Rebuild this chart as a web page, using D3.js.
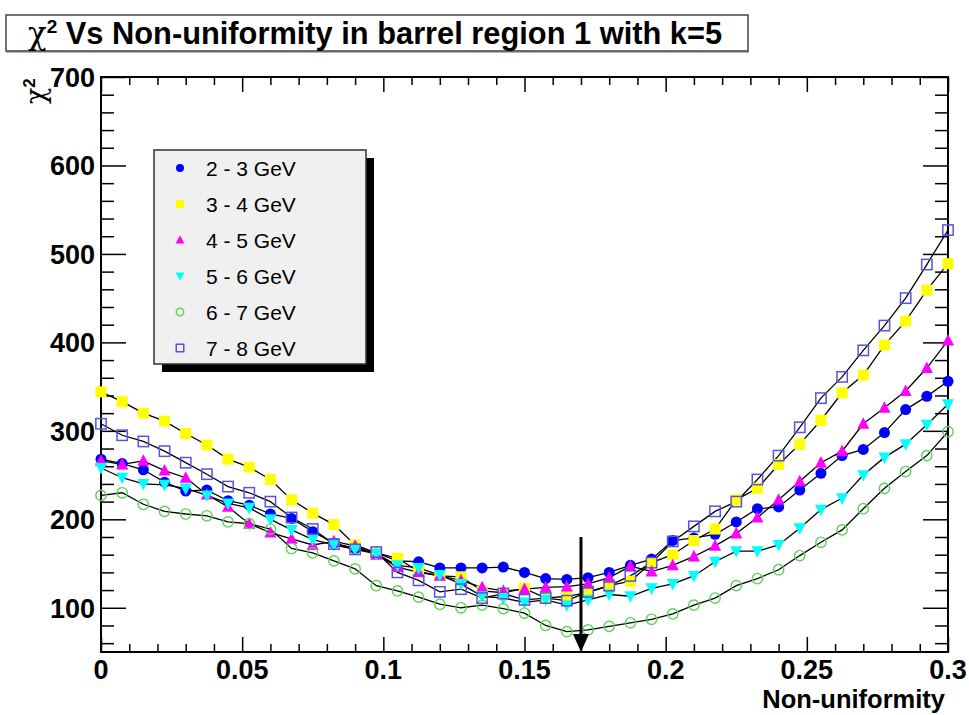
<!DOCTYPE html>
<html>
<head>
<meta charset="utf-8">
<script src="https://cdn.jsdelivr.net/npm/d3@7"></script>
<style>
  html, body { margin: 0; padding: 0; background: #fff; }
  svg text { font-family: "Liberation Sans", Arial, Helvetica, sans-serif; font-weight: bold; }
</style>
</head>
<body>
<svg id="chart" width="969" height="715"></svg>
<script>
// Non-uniformity scan points
const nonUniformity = [0, 0.0075, 0.015, 0.0225, 0.03, 0.0375, 0.045, 0.0525, 0.06, 0.0675,
  0.075, 0.0825, 0.09, 0.0975, 0.105, 0.1125, 0.12, 0.1275, 0.135, 0.1425,
  0.15, 0.1575, 0.165, 0.1725, 0.18, 0.1875, 0.195, 0.2025, 0.21, 0.2175,
  0.225, 0.2325, 0.24, 0.2475, 0.255, 0.2625, 0.27, 0.2775, 0.285, 0.2925, 0.3];

// chi2 per energy bin
const chi2_2to3 = [268, 263, 256, 242, 232, 233, 221, 216, 206, 201,
  186, 173, 167, 162, 153, 152, 145, 145, 145, 146,
  140, 133, 132, 134, 140, 148, 155, 176, 179, 183,
  197, 212, 214, 233, 252, 272, 279, 298, 324, 339, 356];
const chi2_3to4 = [344, 333, 320, 311, 297, 284, 268, 259, 245, 222,
  207, 194, 171, 162, 156, 141, 136, 135, 119, 117,
  122, 111, 113, 117, 125, 130, 151, 160, 176, 189,
  222, 235, 262, 285, 312, 343, 363, 397, 424, 459, 489];
const chi2_4to5 = [266, 262, 266, 255, 247, 228, 214, 195, 185, 178,
  171, 175, 170, 160, 146, 140, 136, 131, 123, 119,
  121, 123, 124, 127, 134, 147, 141, 148, 158, 170,
  184, 202, 222, 243, 264, 277, 308, 326, 345, 371, 402];
const chi2_5to6 = [258, 247, 240, 239, 235, 227, 218, 213, 200, 188,
  177, 171, 166, 161, 148, 145, 137, 127, 113, 111,
  106, 109, 103, 109, 115, 113, 122, 127, 136, 152,
  164, 164, 171, 190, 211, 224, 250, 270, 285, 307, 330];
const chi2_6to7 = [227, 230, 217, 209, 206, 204, 197, 195, 189, 167,
  162, 153, 144, 125, 119, 112, 104, 100, 103, 99,
  94, 80, 73, 75, 79, 83, 87, 93, 103, 111,
  125, 133, 143, 159, 174, 188, 212, 235, 254, 272, 299];
const chi2_7to8 = [308, 295, 288, 277, 264, 251, 237, 230, 220, 202,
  189, 172, 166, 163, 140, 131, 118, 121, 111, 116,
  109, 111, 108, 118, 125, 136, 151, 175, 192, 209,
  220, 245, 272, 304, 337, 361, 391, 419, 450, 488, 527];

const seriesLabels = ["2 - 3 GeV", "3 - 4 GeV", "4 - 5 GeV", "5 - 6 GeV", "6 - 7 GeV", "7 - 8 GeV"];
const seriesValues = [chi2_2to3, chi2_3to4, chi2_4to5, chi2_5to6, chi2_6to7, chi2_7to8];
const markerKinds = ["circle", "square", "triangleUp", "triangleDown", "openCircle", "openSquare"];
const markerColors = ["#0000ff", "#ffff00", "#ff00ff", "#00ffff", "#59d454", "#5954d9"];

const xTickLabels = [0, 0.05, 0.1, 0.15, 0.2, 0.25, 0.3];
const yTickLabels = [100, 200, 300, 400, 500, 600, 700];
const arrowAt = 0.17;
const arrowFrom = 180;

(function () {
  const svg = d3.select("#chart");
  const pL = 101, pR = 948, pT = 77, pB = 652;
  const x = d3.scaleLinear().domain([0, 0.3]).range([pL, pR]);
  const y = d3.scaleLinear().domain([50, 700]).range([pB, pT]);

  // title pave
  svg.append("rect").attr("x", 6).attr("y", 15).attr("width", 742).attr("height", 36)
    .attr("fill", "#fff").attr("stroke", "#444").attr("stroke-width", 1.5);
  svg.append("line").attr("x1", 6).attr("x2", 749).attr("y1", 51.5).attr("y2", 51.5)
    .attr("stroke", "#666").attr("stroke-width", 2);
  const title = svg.append("text").attr("x", 28).attr("y", 44).attr("font-size", 30.8);
  title.append("tspan").style("font-family", "'DejaVu Serif', serif").style("font-weight", "normal").text("χ");
  title.append("tspan").attr("dy", -11).attr("font-size", 19).text("2");
  title.append("tspan").attr("dy", 11).text(" Vs Non-uniformity in barrel region 1 with k=5");

  // axes: major and minor ticks on all four sides
  const xMinor = d3.range(0, 0.3001, 0.01).filter(v => Math.abs(v * 20 - Math.round(v * 20)) > 1e-6);
  const yMinor = d3.range(60, 700, 20).filter(v => v % 100 !== 0);

  function tickAxis(axisFn, scale, values, size, g) {
    g.call(axisFn(scale).tickValues(values).tickSize(size).tickFormat(""));
    g.select(".domain").remove();
    g.selectAll("line").attr("stroke", "#000").attr("stroke-width", 1.5);
  }
  tickAxis(d3.axisTop, x, xTickLabels, 15, svg.append("g").attr("transform", `translate(0,${pB})`));
  tickAxis(d3.axisTop, x, xMinor, 8, svg.append("g").attr("transform", `translate(0,${pB})`));
  tickAxis(d3.axisBottom, x, xTickLabels, 15, svg.append("g").attr("transform", `translate(0,${pT})`));
  tickAxis(d3.axisBottom, x, xMinor, 8, svg.append("g").attr("transform", `translate(0,${pT})`));
  tickAxis(d3.axisRight, y, yTickLabels, 25, svg.append("g").attr("transform", `translate(${pL},0)`));
  tickAxis(d3.axisRight, y, yMinor, 13, svg.append("g").attr("transform", `translate(${pL},0)`));
  tickAxis(d3.axisLeft, y, yTickLabels, 25, svg.append("g").attr("transform", `translate(${pR},0)`));
  tickAxis(d3.axisLeft, y, yMinor, 13, svg.append("g").attr("transform", `translate(${pR},0)`));

  svg.append("rect").attr("x", pL).attr("y", pT).attr("width", pR - pL).attr("height", pB - pT)
    .attr("fill", "none").attr("stroke", "#000").attr("stroke-width", 2);

  // tick labels
  svg.append("g").selectAll("text").data(xTickLabels).join("text")
    .attr("x", d => x(d)).attr("y", 679).attr("text-anchor", "middle").attr("font-size", 27)
    .text(d => d3.format("")(d));
  svg.append("g").selectAll("text").data(yTickLabels).join("text")
    .attr("x", 95).attr("y", d => y(d) + 10).attr("text-anchor", "end").attr("font-size", 27)
    .text(d => d);

  // axis titles
  svg.append("text").attr("x", 945).attr("y", 708).attr("text-anchor", "end").attr("font-size", 25.5)
    .text("Non-uniformity");
  const yt = svg.append("text").attr("transform", "translate(45,104) rotate(-90)").attr("font-size", 27);
  yt.append("tspan").style("font-family", "'DejaVu Serif', serif").style("font-weight", "normal").text("χ");
  yt.append("tspan").attr("dy", -10).attr("font-size", 17).text("2");

  // connecting lines
  const line = d3.line().x((d, i) => x(nonUniformity[i])).y(d => y(d));
  const plot = svg.append("g");
  seriesValues.forEach(vals => {
    plot.append("path").attr("d", line(vals)).attr("fill", "none").attr("stroke", "#000").attr("stroke-width", 1.3);
  });

  // markers
  function drawMarker(g, kind, color, cx, cy, s) {
    switch (kind) {
      case "circle":
        g.append("circle").attr("cx", cx).attr("cy", cy).attr("r", s * 0.5).attr("fill", color);
        break;
      case "square":
        g.append("rect").attr("x", cx - s * 0.5).attr("y", cy - s * 0.5).attr("width", s).attr("height", s).attr("fill", color);
        break;
      case "triangleUp":
        g.append("path").attr("d", `M${cx - s * 0.55},${cy + s * 0.45}L${cx + s * 0.55},${cy + s * 0.45}L${cx},${cy - s * 0.6}Z`).attr("fill", color);
        break;
      case "triangleDown":
        g.append("path").attr("d", `M${cx - s * 0.55},${cy - s * 0.45}L${cx + s * 0.55},${cy - s * 0.45}L${cx},${cy + s * 0.6}Z`).attr("fill", color);
        break;
      case "openCircle":
        g.append("circle").attr("cx", cx).attr("cy", cy).attr("r", s * 0.47).attr("fill", "none").attr("stroke", color).attr("stroke-width", 1.4);
        break;
      case "openSquare":
        g.append("rect").attr("x", cx - s * 0.47).attr("y", cy - s * 0.47).attr("width", s * 0.94).attr("height", s * 0.94)
          .attr("fill", "none").attr("stroke", color).attr("stroke-width", 1.5);
        break;
    }
  }
  seriesValues.forEach((vals, k) => {
    const g = plot.append("g");
    vals.forEach((v, i) => drawMarker(g, markerKinds[k], markerColors[k], x(nonUniformity[i]), y(v), 11));
  });

  // arrow marking the chosen non-uniformity
  const ax = x(arrowAt);
  svg.append("line").attr("x1", ax).attr("x2", ax).attr("y1", y(arrowFrom)).attr("y2", pB - 14)
    .attr("stroke", "#000").attr("stroke-width", 3);
  svg.append("path").attr("d", `M${ax - 8},${pB - 18}L${ax + 8},${pB - 18}L${ax},${pB}Z`).attr("fill", "#000");

  // legend
  const lg = svg.append("g");
  lg.append("rect").attr("x", 162).attr("y", 158).attr("width", 212).attr("height", 214).attr("fill", "#000");
  lg.append("rect").attr("x", 154).attr("y", 150).attr("width", 212).attr("height", 214)
    .attr("fill", "#f0f0f0").attr("stroke", "#333").attr("stroke-width", 1.5);
  seriesLabels.forEach((lab, k) => {
    const cy = 168 + k * 36;
    drawMarker(lg, markerKinds[k], markerColors[k], 180, cy, 8);
    lg.append("text").attr("x", 206).attr("y", cy + 8).attr("font-size", 21).style("font-weight", "normal").text(lab);
  });
})();
</script>
</body>
</html>
